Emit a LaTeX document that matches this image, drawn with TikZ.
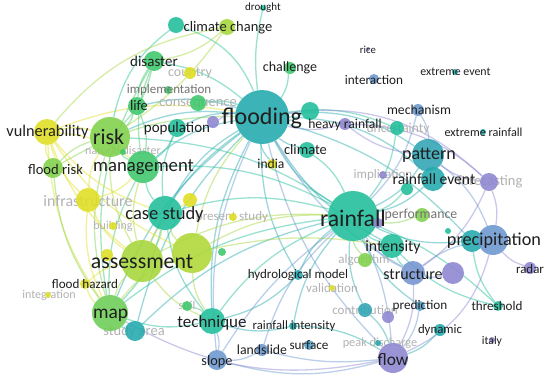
\documentclass[tikz,border=0pt]{standalone}
\usepackage{fontspec}
\setmainfont{Carlito}
\usetikzlibrary{backgrounds}

\definecolor{vPurple}{HTML}{8D86D1}
\definecolor{vBlue}{HTML}{6A97CE}
\definecolor{vTeal}{HTML}{22A9AE}
\definecolor{vTurq}{HTML}{1FBE9A}
\definecolor{vGreen}{HTML}{3DC86B}
\definecolor{vLime}{HTML}{80D14C}
\definecolor{vOlive}{HTML}{A6D73A}
\definecolor{vYellow}{HTML}{E0DF22}

\newcommand\fsz[1]{\fontsize{#1}{#1}\selectfont}

\begin{document}
\begin{tikzpicture}[
        x=1pt, y=-1pt,
        dot/.style={circle, inner sep=0pt, draw=none, fill opacity=0.88},
        lbl/.style={inner sep=0pt, text=black!88},
        faint/.style={inner sep=0pt, text=black!30},
        grey/.style={inner sep=0pt, text=black!55},
        link/.style={line width=1.3pt, draw opacity=0.45, bend right=15}
    ]
        \useasboundingbox (0,0) rectangle (550,378);

        % Faint labels (behind the circles)
        \node[faint, font=\fsz{16}] (infrastructure-l) at (88,201) {infrastructure};
        \node[faint, font=\fsz{12}] (building-l) at (113,226) {building};
        \node[faint, font=\fsz{12}] (integration-l) at (49,295) {integration};
        \node[faint, font=\fsz{14.5}] (studyarea-l) at (134,332) {study area};
        \node[faint, font=\fsz{12}] (soil-l) at (187,305) {soil};
        \node[faint, font=\fsz{13}] (validation-l) at (332,288) {validation};
        \node[faint, font=\fsz{13}] (contribution-l) at (365,310) {contribution};
        \node[faint, font=\fsz{12.3}] (peak-l) at (380,343) {peak discharge};
        \node[faint, font=\fsz{13}] (algorithm-l) at (364,260) {algorithm};
        \node[faint, font=\fsz{14.5}] (forecasting-l) at (490,182) {forecasting};
        \node[faint, font=\fsz{13}] (implication-l) at (383,175) {implication};
        \node[faint, font=\fsz{13.5}] (uncertainty-l) at (398,129) {uncertainty};
        \node[faint, font=\fsz{13}] (present-l) at (232,217) {present study};
        \node[faint, font=\fsz{12}] (natural-l) at (123,150) {natural disaster};
        \node[faint, font=\fsz{14}] (country-l) at (190,73) {country};
        \node[faint, font=\fsz{14.5}] (consequence-l) at (198,104) {consequence};

        % Circles (left cluster)
        \node[dot, fill=vTurq, minimum size=16] (persp) at (176,25) {};
        \node[dot, fill=vOlive, minimum size=16] (cchange) at (227,27) {};
        \node[dot, fill=vTurq, minimum size=6] (drought) at (263,8) {};
        \node[dot, fill=vGreen, minimum size=20] (disaster) at (154,61) {};
        \node[dot, fill=vYellow, minimum size=12] (country) at (190,73) {};
        \node[dot, fill=vGreen, minimum size=8] (implementation) at (168,90) {};
        \node[dot, fill=vGreen, minimum size=18] (life) at (137,106) {};
        \node[dot, fill=vGreen, minimum size=16] (consequence) at (198,103) {};
        \node[dot, fill=vTurq, minimum size=18] (population) at (177,128) {};
        \node[dot, fill=vPurple, minimum size=12] (cause) at (213,122) {};
        \node[dot, fill=vYellow, minimum size=26] (vulnerability) at (47,132) {};
        \node[dot, fill=vLime, minimum size=40] (risk) at (110,137) {};
        \node[dot, fill=vGreen, minimum size=6] (natural) at (123,152) {};
        \node[dot, fill=vLime, minimum size=20] (floodrisk) at (53,168) {};
        \node[dot, fill=vGreen, minimum size=32] (management) at (143,167) {};
        \node[dot, fill=vYellow, minimum size=24] (infrastructure) at (88,200) {};
        \node[dot, fill=vYellow, minimum size=14] (urban) at (190,200) {};
        \node[dot, fill=vYellow, minimum size=8] (building) at (113,226) {};
        \node[dot, fill=vTurq, minimum size=34] (casestudy) at (165,213) {};
        \node[dot, fill=vYellow, minimum size=8] (present) at (233,217) {};
        \node[dot, fill=vYellow, minimum size=12] (yellowdot) at (107,255) {};
        \node[dot, fill=vOlive, minimum size=42] (assessment) at (142,261) {};
        \node[dot, fill=vOlive!85!vYellow, minimum size=40] (impact) at (192,253) {};
        \node[dot, fill=vGreen, minimum size=8] (greendot) at (222,252) {};
        \node[dot, fill=vYellow, minimum size=10] (floodhazard) at (85,284) {};
        \node[dot, fill=vYellow, minimum size=6] (integration) at (48,295) {};
        \node[dot, fill=vLime!70!vGreen, minimum size=36] (map) at (110,313) {};
        \node[dot, fill=vGreen, minimum size=10] (soil) at (187,306) {};
        \node[dot, fill=vTeal, minimum size=20] (studyarea) at (135,331) {};
        \node[dot, fill=vTurq, minimum size=26] (technique) at (212,321) {};
        \node[dot, fill=vBlue, minimum size=20] (slope) at (217,360) {};

        % Circles (centre cluster)
        \node[dot, fill=vTeal, minimum size=54] (flooding) at (262,117) {};
        \node[dot, fill=vGreen, minimum size=12] (challenge) at (290,68) {};
        \node[dot, fill=vTurq, minimum size=18] (framework) at (310,111) {};
        \node[dot, fill=vTurq, minimum size=16] (climate) at (307,150) {};
        \node[dot, fill=vYellow, minimum size=10] (india) at (272,164) {};
        \node[dot, fill=vPurple, minimum size=12] (heavyrain) at (345,124) {};
        \node[dot, fill=vTurq, minimum size=50] (rainfall) at (353,216) {};
        \node[dot, fill=vTeal, minimum size=10] (hydro) at (298,275) {};
        \node[dot, fill=vYellow, minimum size=6] (validation) at (332,288) {};
        \node[dot, fill=vTeal, minimum size=8] (raininten) at (293,326) {};
        \node[dot, fill=vBlue, minimum size=12] (landslide) at (262,350) {};
        \node[dot, fill=vBlue!70!vTeal, minimum size=10] (surface) at (309,345) {};

        % Circles (right cluster)
        \node[dot, fill=vPurple, minimum size=4] (rice) at (368,49) {};
        \node[dot, fill=vBlue, minimum size=10] (interaction) at (374,79) {};
        \node[dot, fill=vTeal, minimum size=6] (extremeevent) at (455,72) {};
        \node[dot, fill=vBlue, minimum size=12] (mechanism) at (418,110) {};
        \node[dot, fill=vTurq, minimum size=14] (uncertainty) at (397,128) {};
        \node[dot, fill=vTeal, minimum size=6] (extremerain) at (483,132) {};
        \node[dot, fill=vTeal!80!vBlue, minimum size=32] (pattern) at (428,155) {};
        \node[dot, fill=vPurple, minimum size=8] (implication) at (383,175) {};
        \node[dot, fill=vTeal, minimum size=24] (rainevent) at (433,179) {};
        \node[dot, fill=vTurq, minimum size=12] (tealdot) at (407,189) {};
        \node[dot, fill=vPurple, minimum size=18] (forecasting) at (489,182) {};
        \node[dot, fill=vLime, minimum size=14] (performance) at (422,215) {};
        \node[dot, fill=vPurple, minimum size=10] (purpledot) at (378,223) {};
        \node[dot, fill=vTurq, minimum size=6] (smalldot) at (448,231) {};
        \node[dot, fill=vTurq, minimum size=24] (intensity) at (392,246) {};
        \node[dot, fill=vLime, minimum size=14] (algorithm) at (365,260) {};
        \node[dot, fill=vTeal, minimum size=22] (precipteal) at (472,241) {};
        \node[dot, fill=vBlue, minimum size=30] (precipitation) at (493,240) {};
        \node[dot, fill=vBlue!75!vPurple, minimum size=24] (structure) at (413,273) {};
        \node[dot, fill=vPurple, minimum size=22] (purplebig) at (453,273) {};
        \node[dot, fill=vPurple, minimum size=12] (radar) at (530,268) {};
        \node[dot, fill=vTurq, minimum size=10] (threshold) at (498,306) {};
        \node[dot, fill=vBlue!70!vTeal, minimum size=10] (prediction) at (420,306) {};
        \node[dot, fill=vTeal!80!vBlue, minimum size=14] (contribution) at (365,310) {};
        \node[dot, fill=vPurple, minimum size=12] (purplesmall) at (388,317) {};
        \node[dot, fill=vTeal, minimum size=12] (dynamic) at (440,330) {};
        \node[dot, fill=vPurple, minimum size=6] (italy) at (492,340) {};
        \node[dot, fill=vTeal, minimum size=6] (peak) at (378,343) {};
        \node[dot, fill=vPurple, minimum size=30] (flow) at (393,358) {};

        % Links
        \begin{scope}[on background layer]
        \fill[white] (0,0) rectangle (550,378);
        % flooding
        \draw[link, vTeal] (flooding) to (risk);
        \draw[link, vTeal] (flooding) to (management);
        \draw[link, vTeal] (flooding) to (population);
        \draw[link, vTeal] (flooding) to (life);
        \draw[link, vTurq] (flooding) to (consequence);
        \draw[link, vTurq] (flooding) to (disaster);
        \draw[link, vTurq] (flooding) to[bend right=25] (persp);
        \draw[link, vTurq] (flooding) to (challenge);
        \draw[link, vTurq] (flooding) to[bend left=10] (drought);
        \draw[link, vTeal] (flooding) to (framework);
        \draw[link, vPurple] (flooding) to (heavyrain);
        \draw[link, vPurple] (flooding) to (cause);
        \draw[link, vTeal] (flooding) to (climate);
        \draw[link, vTeal] (flooding) to (india);
        \draw[link, vTeal] (flooding) to (rainfall);
        \draw[link, vTeal] (flooding) to[bend left=20] (pattern);
        \draw[link, vTeal] (flooding) to[bend left=20] (rainevent);
        \draw[link, vTeal] (flooding) to (casestudy);
        \draw[link, vTeal] (flooding) to (assessment);
        \draw[link, vTeal] (flooding) to (map);
        \draw[link, vTeal] (flooding) to (technique);
        \draw[link, vTeal] (flooding) to (intensity);
        \draw[link, vBlue] (flooding) to (structure);
        \draw[link, vTeal] (flooding) to[bend left=15] (precipteal);
        \draw[link, vTeal] (flooding) to (hydro);
        \draw[link, vTurq] (flooding) to[bend left=15] (uncertainty);
        \draw[link, vPurple] (flooding) to[bend left=25] (forecasting);
        \draw[link, vBlue] (flooding) to (flow);
        \draw[link, vYellow] (flooding) to (vulnerability);
        \draw[link, vLime] (flooding) to (floodrisk);
        \draw[link, vTeal] (flooding) to (studyarea);
        \draw[link, vBlue] (flooding) to (slope);
        \draw[link, vOlive] (flooding) to (impact);
        % rainfall
        \draw[link, vTeal] (rainfall) to (pattern);
        \draw[link, vTeal] (rainfall) to (rainevent);
        \draw[link, vTurq] (rainfall) to (tealdot);
        \draw[link, vTurq] (rainfall) to (intensity);
        \draw[link, vTeal] (rainfall) to (precipteal);
        \draw[link, vBlue] (rainfall) to (structure);
        \draw[link, vLime] (rainfall) to (performance);
        \draw[link, vLime] (rainfall) to (algorithm);
        \draw[link, vTeal] (rainfall) to (hydro);
        \draw[link, vTurq] (rainfall) to (casestudy);
        \draw[link, vOlive] (rainfall) to (assessment);
        \draw[link, vTurq] (rainfall) to (map);
        \draw[link, vTurq] (rainfall) to (technique);
        \draw[link, vTurq] (rainfall) to (management);
        \draw[link, vTurq] (rainfall) to (risk);
        \draw[link, vBlue] (rainfall) to[bend left=10] (flow);
        \draw[link, vTeal] (rainfall) to (prediction);
        \draw[link, vTeal] (rainfall) to (contribution);
        \draw[link, vTurq] (rainfall) to[bend left=10] (threshold);
        \draw[link, vTeal] (rainfall) to (raininten);
        \draw[link, vBlue] (rainfall) to (landslide);
        \draw[link, vOlive] (rainfall) to (impact);
        \draw[link, vTurq] (rainfall) to (climate);
        \draw[link, vTeal] (rainfall) to (studyarea);
        \draw[link, vTurq] (rainfall) to (uncertainty);
        \draw[link, vBlue] (rainfall) to (mechanism);
        % risk and management
        \draw[link, vYellow] (risk) to (vulnerability);
        \draw[link, vGreen] (risk) to (management);
        \draw[link, vLime] (risk) to (floodrisk);
        \draw[link, vOlive] (risk) to (assessment);
        \draw[link, vLime] (risk) to (map);
        \draw[link, vGreen] (risk) to (disaster);
        \draw[link, vGreen] (risk) to (life);
        \draw[link, vYellow] (risk) to (infrastructure);
        \draw[link, vOlive] (risk) to[bend right=10] (cchange);
        \draw[link, vTurq] (persp) to[bend right=20] (risk);
        \draw[link, vOlive] (cchange) to[bend right=20] (vulnerability);
        \draw[link, vOlive] (management) to (assessment);
        \draw[link, vTurq] (management) to (casestudy);
        \draw[link, vGreen] (management) to (map);
        \draw[link, vTurq] (management) to (population);
        \draw[link, vGreen] (management) to (life);
        \draw[link, vYellow] (management) to (vulnerability);
        \draw[link, vGreen] (disaster) to (life);
        \draw[link, vGreen] (disaster) to (management);
        \draw[link, vGreen] (disaster) to[bend right=20] (map);
        \draw[link, vOlive] (disaster) to (cchange);
        \draw[link, vTurq] (population) to (casestudy);
        % assessment and map
        \draw[link, vOlive] (assessment) to (map);
        \draw[link, vOlive] (assessment) to (casestudy);
        \draw[link, vOlive] (assessment) to (impact);
        \draw[link, vOlive] (assessment) to (technique);
        \draw[link, vYellow] (assessment) to (floodhazard);
        \draw[link, vTurq] (map) to (technique);
        \draw[link, vTurq] (map) to (casestudy);
        \draw[link, vTeal] (map) to (studyarea);
        \draw[link, vTurq] (casestudy) to (technique);
        \draw[link, vOlive] (casestudy) to (impact);
        \draw[link, vGreen] (technique) to (soil);
        \draw[link, vTeal] (technique) to (hydro);
        \draw[link, vTeal] (technique) to (raininten);
        \draw[link, vYellow] (vulnerability) to (infrastructure);
        \draw[link, vYellow] (vulnerability) to (assessment);
        \draw[link, vYellow] (vulnerability) to (map);
        \draw[link, vYellow] (vulnerability) to (impact);
        \draw[link, vYellow] (vulnerability) to (casestudy);
        \draw[link, vYellow] (vulnerability) to (floodrisk);
        \draw[link, vLime] (floodrisk) to (map);
        \draw[link, vYellow] (infrastructure) to (map);
        \draw[link, vYellow] (infrastructure) to (assessment);
        \draw[link, vYellow] (infrastructure) to (management);
        \draw[link, vYellow] (floodhazard) to (map);
        \draw[link, vOlive] (impact) to (map);
        \draw[link, vOlive] (impact) to (technique);
        \draw[link, vOlive] (impact) to[bend left=10] (intensity);
        \draw[link, vYellow] (urban) to (assessment);
        % blue and purple
        \draw[link, vPurple] (heavyrain) to[bend left=20] (forecasting);
        \draw[link, vPurple] (heavyrain) to (pattern);
        \draw[link, vPurple] (flow) to (structure);
        \draw[link, vPurple] (flow) to[bend right=25] (precipitation);
        \draw[link, vBlue] (flow) to[bend left=15] (slope);
        \draw[link, vBlue] (flow) to[bend left=10] (landslide);
        \draw[link, vPurple] (flow) to[bend left=20] (map);
        \draw[link, vBlue] (slope) to (landslide);
        \draw[link, vBlue] (slope) to[bend left=10] (rainfall);
        \draw[link, vBlue] (slope) to (technique);
        \draw[link, vPurple] (precipitation) to (radar);
        \draw[link, vBlue] (precipitation) to (pattern);
        \draw[link, vBlue] (precipitation) to (structure);
        \draw[link, vPurple] (precipitation) to (forecasting);
        \draw[link, vPurple] (structure) to (forecasting);
        \draw[link, vPurple] (structure) to (purplebig);
        \draw[link, vPurple] (pattern) to (forecasting);
        \draw[link, vBlue] (pattern) to (mechanism);
        \draw[link, vBlue] (flow) to (prediction);
        \draw[link, vTeal] (flow) to (dynamic);
        \draw[link, vTeal] (flow) to (contribution);
        \draw[link, vTeal] (flow) to (raininten);
        \draw[link, vTurq] (precipteal) to (threshold);
        \draw[link, vTurq] (intensity) to (threshold);
        \draw[link, vTeal] (pattern) to (rainevent);
        \draw[link, vTurq] (intensity) to (structure);
        \end{scope}

        % Labels (left cluster)
        \node[lbl, font=\fsz{11}] (drought-l) at (263,8) {drought};
        \node[lbl, font=\fsz{14.5}] (cchange-l) at (228,28) {climate change};
        \node[lbl, font=\fsz{15}] (disaster-l) at (154,61) {disaster};
        \node[grey, font=\fsz{13}] (implementation-l) at (169,90) {implementation};
        \node[lbl, font=\fsz{14.5}] (life-l) at (139,106) {life};
        \node[lbl, font=\fsz{15}] (population-l) at (177,128) {population};
        \node[lbl, font=\fsz{16.3}] (vulnerability-l) at (47.5,132) {vulnerability};
        \node[lbl, font=\fsz{22}] (risk-l) at (108.5,137) {risk};
        \node[lbl, font=\fsz{14.6}] (floodrisk-l) at (55.5,169) {flood risk};
        \node[lbl, font=\fsz{18.7}] (management-l) at (143.5,167) {management};
        \node[lbl, font=\fsz{18.5}] (casestudy-l) at (164.5,215) {case study};
        \node[lbl, font=\fsz{21.8}] (assessment-l) at (142,262) {assessment};
        \node[lbl, font=\fsz{13.1}] (floodhazard-l) at (85,284) {flood hazard};
        \node[lbl, font=\fsz{19.4}] (map-l) at (110.5,315) {map};
        \node[lbl, font=\fsz{17}] (technique-l) at (212,323) {technique};
        \node[lbl, font=\fsz{14.3}] (slope-l) at (217,362) {slope};

        % Labels (centre cluster)
        \node[lbl, font=\fsz{24}] (flooding-l) at (262,118) {flooding};
        \node[lbl, font=\fsz{14}] (challenge-l) at (290,68) {challenge};
        \node[lbl, font=\fsz{14.4}] (climate-l) at (305.5,150) {climate};
        \node[lbl, font=\fsz{13.6}] (india-l) at (271,164) {india};
        \node[lbl, font=\fsz{13.6}] (heavyrain-l) at (345,125) {heavy rainfall};
        \node[lbl, font=\fsz{23.7}] (rainfall-l) at (353,218) {rainfall};
        \node[lbl, font=\fsz{13}] (hydro-l) at (298,275) {hydrological model};
        \node[lbl, font=\fsz{12.7}] (raininten-l) at (294,326) {rainfall intensity};
        \node[lbl, font=\fsz{13.8}] (landslide-l) at (262,350) {landslide};
        \node[lbl, font=\fsz{13.2}] (surface-l) at (309,345) {surface};

        % Labels (right cluster)
        \node[lbl, font=\fsz{10.7}] (rice-l) at (368,50) {rice};
        \node[lbl, font=\fsz{13.2}] (interaction-l) at (374,80) {interaction};
        \node[lbl, font=\fsz{11.9}] (extremeevent-l) at (455.5,72) {extreme event};
        \node[lbl, font=\fsz{13.7}] (mechanism-l) at (419,110) {mechanism};
        \node[lbl, font=\fsz{12.2}] (extremerain-l) at (483.5,132) {extreme rainfall};
        \node[lbl, font=\fsz{18}] (pattern-l) at (429,155) {pattern};
        \node[lbl, font=\fsz{15.6}] (rainevent-l) at (434,179) {rainfall event};
        \node[grey, font=\fsz{13.8}] (performance-l) at (421,215) {performance};
        \node[lbl, font=\fsz{15.8}] (intensity-l) at (393,247) {intensity};
        \node[lbl, font=\fsz{18.2}] (precipitation-l) at (494,241) {precipitation};
        \node[lbl, font=\fsz{16}] (structure-l) at (413,274) {structure};
        \node[lbl, font=\fsz{12.9}] (radar-l) at (530,269) {radar};
        \node[lbl, font=\fsz{13.2}] (prediction-l) at (420,306) {prediction};
        \node[lbl, font=\fsz{13.1}] (threshold-l) at (497,306) {threshold};
        \node[lbl, font=\fsz{12.8}] (dynamic-l) at (440,330) {dynamic};
        \node[lbl, font=\fsz{11.7}] (italy-l) at (492,341) {italy};
        \node[lbl, font=\fsz{17.4}] (flow-l) at (393,360) {flow};
    \end{tikzpicture}
\end{document}
